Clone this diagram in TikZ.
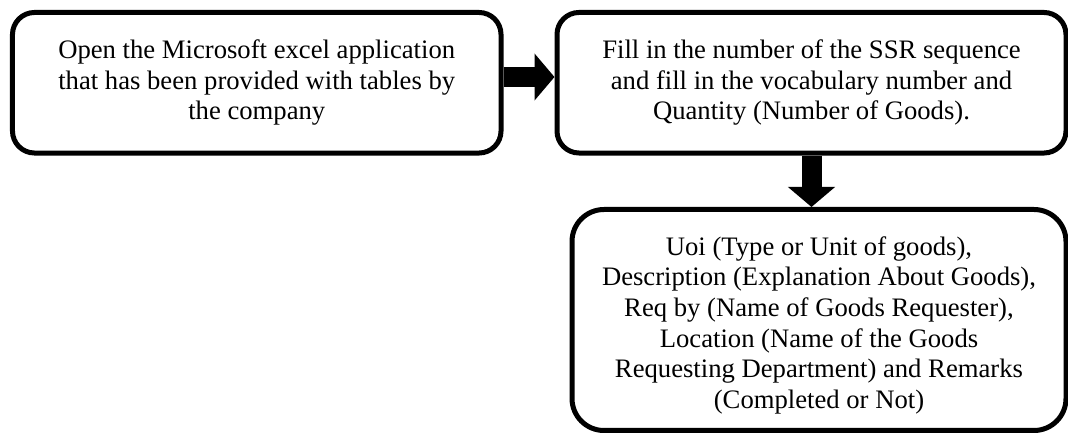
\documentclass[tikz,border=0pt]{standalone}
\usepackage{fontspec}
\setmainfont{Liberation Serif}
\usetikzlibrary{arrows.meta}
\begin{document}
\begin{tikzpicture}[x=0.75pt, y=-0.75pt,
  stepbox/.style={draw=black, line width=3.75pt, rounded corners=16.5pt,
    fill=white, align=center, inner sep=0pt,
    font=\fontsize{20pt}{23pt}\selectfont},
  flow/.style={draw=black, line width=15pt,
    -{Triangle[length=15pt 0 0, width=34.5pt 0 0]}}]
  \useasboundingbox (0,0) rectangle (1068,434);

  % process steps
  \node[stepbox, minimum width=366.4pt, minimum height=105.4pt] (open) at (256.75,82.75)
    {Open the Microsoft excel application\\
     that has been provided with tables by\\
     the company};
  \node[stepbox, minimum width=381.75pt, minimum height=105.4pt] (fill) at (811.5,82.75)
    {Fill in the number of the SSR sequence\\
     and fill in the vocabulary number and\\
     Quantity (Number of Goods).};
  \node[stepbox, rounded corners=24pt, minimum width=370.5pt, minimum height=165.75pt] (uoi) at (819,320)
    {\rule{0pt}{22pt}Uoi (Type or Unit of goods),\\
     Description (Explanation About Goods),\\
     Req by (Name of Goods Requester),\\
     Location (Name of the Goods\\
     Requesting Department) and Remarks\\
     (Completed or Not)};

  % block arrows between the steps
  \draw[flow] ([yshift=4.3pt]open.east) -- ([yshift=4.3pt]fill.west);
  \draw[flow] (fill.south) -- (fill.south |- uoi.north);
\end{tikzpicture}
\end{document}
